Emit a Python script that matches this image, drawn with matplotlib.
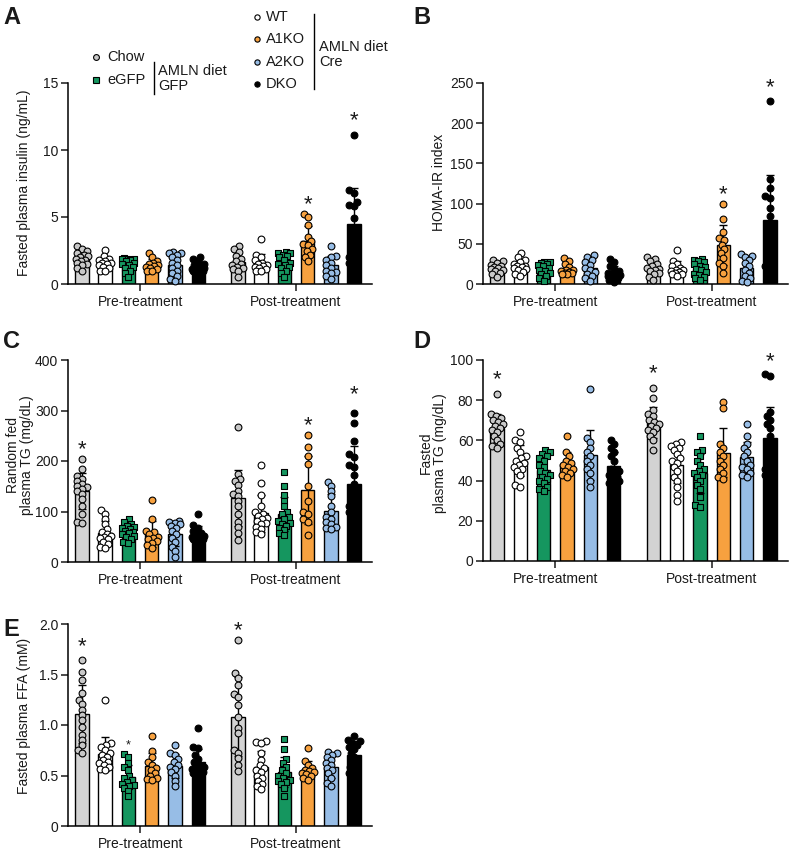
import numpy as np
import matplotlib.pyplot as plt
from matplotlib.lines import Line2D

plt.rcParams['font.family'] = ['Liberation Sans', 'DejaVu Sans']
plt.rcParams['font.size'] = 10
plt.rcParams['text.color'] = '#1a1a1a'
plt.rcParams['axes.labelcolor'] = '#1a1a1a'
plt.rcParams['xtick.color'] = '#1a1a1a'
plt.rcParams['ytick.color'] = '#1a1a1a'

# groups in plotting order
groups = ['Chow', 'WT', 'eGFP', 'A1KO', 'A2KO', 'DKO']
bar_colors = ['#d3d3d3', '#ffffff', '#15965f', '#f7a13f', '#97bde6', '#000000']
dot_colors = ['#c8c8c8', '#ffffff', '#15965f', '#f7a13f', '#97bde6', '#000000']
dot_markers = ['o', 'o', 's', 'o', 'o', 'o']
periods = ['Pre-treatment', 'Post-treatment']

# A - fasted plasma insulin (ng/mL), order: Chow, WT, eGFP, A1KO, A2KO, DKO
insulin_pre = [
    [2.8, 2.6, 2.5, 2.3, 2.2, 2.1, 2.0, 1.9, 1.8, 1.7, 1.6, 1.5, 1.4, 1.2, 1.0],
    [2.55, 2.1, 1.9, 1.8, 1.7, 1.6, 1.55, 1.5, 1.4, 1.3, 1.2, 1.0, 0.95],
    [1.95, 1.9, 1.9, 1.85, 1.8, 1.7, 1.6, 1.5, 1.4, 1.3, 1.2, 1.0, 0.8, 0.5],
    [2.3, 2.0, 1.7, 1.6, 1.5, 1.4, 1.35, 1.3, 1.2, 1.1, 1.0, 0.95],
    [2.4, 2.35, 2.3, 2.2, 2.0, 1.8, 1.6, 1.4, 1.2, 1.0, 0.8, 0.6, 0.4, 0.25],
    [2.05, 1.9, 1.7, 1.5, 1.4, 1.3, 1.25, 1.2, 1.15, 1.1, 1.05, 1.0, 0.95, 0.9],
]
insulin_post = [
    [2.8, 2.6, 2.4, 2.1, 1.9, 1.7, 1.5, 1.4, 1.3, 1.2, 1.1, 1.0, 0.55],
    [3.35, 2.2, 2.0, 1.8, 1.6, 1.5, 1.4, 1.35, 1.3, 1.2, 1.1, 1.0, 0.95],
    [2.4, 2.35, 2.3, 2.2, 2.1, 2.0, 1.8, 1.6, 1.5, 1.4, 1.3, 1.2, 1.0, 0.8, 0.5],
    [5.25, 5.0, 4.4, 3.5, 3.2, 3.0, 2.9, 2.6, 2.5, 2.2, 2.0, 1.7],
    [2.8, 2.1, 2.0, 1.8, 1.6, 1.4, 1.2, 1.0, 0.9, 0.8, 0.6, 0.4],
    [11.1, 7.0, 6.8, 6.1, 5.9, 5.8, 4.9, 3.8, 3.3, 2.8, 2.2, 2.0, 1.9, 1.6, 1.5],
]

# B - HOMA-IR index
homa_pre = [
    [30, 28, 26, 24, 22, 21, 20, 19, 18, 16, 14, 12, 9],
    [38, 33, 30, 27, 25, 23, 22, 21, 20, 19, 18, 15, 12, 10],
    [27, 27, 26, 25, 24, 22, 20, 18, 16, 14, 12, 10, 7, 4],
    [32, 29, 25, 21, 18, 17, 16, 15, 14, 14, 13, 13],
    [36, 33, 30, 27, 24, 20, 17, 15, 12, 10, 7, 4],
    [31, 27, 23, 19, 16, 14, 13, 12, 11, 10, 9, 7, 5, 3],
]
homa_post = [
    [33, 31, 28, 25, 22, 20, 19, 18, 16, 14, 12, 9, 5],
    [42, 29, 25, 22, 20, 18, 17, 16, 15, 14, 13, 12, 10],
    [31, 30, 29, 27, 25, 23, 21, 19, 17, 15, 13, 11, 9, 7, 5],
    [100, 81, 65, 57, 55, 49, 43, 38, 32, 26, 22, 14],
    [37, 35, 34, 30, 26, 22, 18, 14, 10, 7, 4, 2],
    [228, 130, 119, 109, 107, 95, 84, 76, 60, 45, 36, 30, 25, 22, 20],
]

# C - random fed plasma TG (mg/dL)
tg_fed_pre = [
    [203, 185, 170, 165, 160, 155, 150, 148, 145, 140, 135, 125, 110, 95, 80, 78],
    [102, 95, 85, 75, 65, 60, 55, 52, 50, 48, 45, 40, 35, 30, 27],
    [85, 80, 76, 72, 70, 68, 65, 62, 60, 58, 55, 52, 50, 45, 40, 37],
    [123, 86, 62, 60, 55, 50, 48, 45, 42, 38, 33, 28],
    [82, 80, 78, 75, 72, 68, 62, 55, 48, 40, 30, 22, 10],
    [95, 73, 68, 62, 58, 55, 52, 50, 48, 47, 46, 45, 44],
]
tg_fed_post = [
    [268, 175, 165, 160, 152, 140, 135, 130, 120, 110, 95, 80, 70, 57, 43],
    [192, 157, 133, 110, 100, 95, 92, 88, 85, 82, 78, 75, 70, 65, 60, 55],
    [178, 150, 132, 120, 110, 100, 95, 90, 86, 82, 78, 75, 72, 68, 63, 58, 53],
    [252, 228, 210, 195, 150, 120, 100, 95, 85, 80, 53],
    [158, 150, 140, 130, 110, 100, 90, 85, 80, 75, 70, 67, 65],
    [296, 275, 240, 213, 208, 192, 188, 172, 155, 110, 105, 100, 95, 85, 75, 65, 55],
]

# D - fasted plasma TG (mg/dL)
tg_fast_pre = [
    [83, 73, 72, 71, 70, 69, 68, 67, 66, 65, 64, 62, 60, 58, 57, 56],
    [64, 60, 59, 56, 54, 52, 51, 50, 49, 48, 47, 46, 45, 43, 38, 37],
    [55, 54, 53, 52, 51, 50, 48, 47, 45, 44, 43, 42, 41, 40, 39, 37, 36, 35],
    [62, 54, 52, 50, 49, 48, 47, 46, 45, 44, 43, 42],
    [85.5, 61, 59, 56, 54, 52, 50, 48, 46, 44, 40, 37],
    [60, 58, 56, 54, 52, 50, 46, 45, 44, 43, 42, 41, 40, 39, 39],
]
tg_fast_post = [
    [86, 81, 75, 73, 72, 70, 69, 68, 67, 66, 65, 64, 62, 60, 55],
    [59, 58, 57, 56, 55, 53, 51, 50, 49, 47, 45, 42, 40, 37, 33, 30],
    [62, 55, 54, 52, 50, 48, 46, 45, 44, 43, 42, 40, 38, 36, 32, 28, 27],
    [79, 76, 58, 56, 54, 52, 50, 48, 46, 44, 42, 41],
    [68, 62, 58, 56, 54, 52, 50, 48, 47, 46, 44, 43, 42],
    [93, 92, 74, 72, 70, 68, 66, 62, 58, 56, 52, 50, 48, 46, 45, 43, 42],
]

# E - fasted plasma FFA (mM)
ffa_pre = [
    [1.64, 1.52, 1.45, 1.32, 1.25, 1.21, 1.15, 1.10, 1.05, 0.98, 0.90, 0.85, 0.80, 0.75, 0.72],
    [1.25, 0.82, 0.80, 0.78, 0.75, 0.72, 0.70, 0.68, 0.65, 0.63, 0.62, 0.60, 0.58, 0.56, 0.55],
    [0.71, 0.68, 0.62, 0.58, 0.55, 0.50, 0.48, 0.46, 0.44, 0.42, 0.41, 0.40, 0.38, 0.35, 0.30],
    [0.89, 0.74, 0.68, 0.63, 0.60, 0.57, 0.55, 0.52, 0.50, 0.48, 0.47, 0.46],
    [0.80, 0.72, 0.70, 0.66, 0.63, 0.60, 0.58, 0.56, 0.53, 0.50, 0.45, 0.40],
    [0.97, 0.78, 0.77, 0.70, 0.66, 0.63, 0.60, 0.58, 0.56, 0.55, 0.54, 0.53, 0.52, 0.52],
]
ffa_post = [
    [1.84, 1.51, 1.47, 1.40, 1.31, 1.28, 1.20, 1.08, 0.97, 0.92, 0.75, 0.72, 0.67, 0.60, 0.54],
    [0.84, 0.83, 0.82, 0.72, 0.65, 0.60, 0.57, 0.55, 0.53, 0.50, 0.48, 0.45, 0.42, 0.40, 0.37],
    [0.86, 0.76, 0.66, 0.62, 0.58, 0.55, 0.52, 0.50, 0.48, 0.46, 0.45, 0.44, 0.42, 0.38, 0.30],
    [0.77, 0.64, 0.60, 0.57, 0.55, 0.54, 0.53, 0.52, 0.51, 0.50, 0.48, 0.46],
    [0.73, 0.72, 0.70, 0.68, 0.65, 0.62, 0.60, 0.57, 0.55, 0.52, 0.48, 0.43, 0.40],
    [0.89, 0.85, 0.84, 0.82, 0.80, 0.78, 0.76, 0.72, 0.68, 0.62, 0.58, 0.55, 0.52, 0.50],
]

W, H = 789, 851
fig = plt.figure(figsize=(W / 100, H / 100), dpi=100)

post_shift = 6.7
xlim = (-0.6, 12.47)


def rect(l, r, t, b):
    return [l / W, 1 - b / H, (r - l) / W, (b - t) / H]


def swarm(vals, ppu_x, ppu_y, diam=6.6, lim=6.0):
    # simple deterministic beeswarm, offsets in px converted to data units
    vals = np.asarray(vals, float)
    cands = [0.0]
    step = 1.0
    k = 1
    while k * step <= lim:
        cands += [-k * step, k * step]
        k += 1
    placed = []
    offs = np.zeros(len(vals))
    for i in np.argsort(vals):
        y = vals[i] * ppu_y
        best, best_d = None, -1
        for c in cands:
            d = min([np.hypot(c - px, y - py) for px, py in placed] + [99])
            if d >= diam * 0.75:
                best = c
                break
            if d > best_d:
                best_d, best_c = d, c
        if best is None:
            best = best_c
        placed.append((best, y))
        offs[i] = best / ppu_x
    return offs


def panel(r, pre, post, ymax, yticks, yticklabels, stars):
    ax = fig.add_axes(rect(*r))
    ax.set_xlim(*xlim)
    ax.set_ylim(0, ymax)
    ppu_x = (r[1] - r[0]) / (xlim[1] - xlim[0])
    ppu_y = (r[3] - r[2]) / ymax
    for p, data in enumerate([pre, post]):
        for g, vals in enumerate(data):
            x = g + p * post_shift
            m = np.mean(vals)
            sd = np.std(vals, ddof=1)
            ax.bar(x, m, width=0.58, color=bar_colors[g], edgecolor='black',
                   linewidth=1.0, zorder=1)
            ax.errorbar(x, m, yerr=sd, fmt='none', ecolor='black', elinewidth=1.0,
                        capsize=3, capthick=1.0, zorder=2)
            xs = x + swarm(vals, ppu_x, ppu_y)
            ax.scatter(xs, vals, s=24 if dot_markers[g] == 'o' else 22,
                       marker=dot_markers[g], facecolor=dot_colors[g],
                       edgecolor='black', linewidth=0.8, zorder=3, clip_on=False)
    for p, g, y, fs in stars:
        ax.annotate('*', (g + p * post_shift, y), xytext=(0, -0.55 * fs),
                    textcoords='offset points', ha='center', va='baseline',
                    fontsize=fs, annotation_clip=False)
    for s in ['top', 'right']:
        ax.spines[s].set_visible(False)
    for s in ['left', 'bottom']:
        ax.spines[s].set_linewidth(1.1)
    ax.set_yticks(yticks)
    ax.set_yticklabels(yticklabels)
    ax.set_xticks([2.5, 2.5 + post_shift])
    ax.set_xticklabels(periods)
    ax.tick_params(axis='both', direction='out', length=5, width=1.1, labelsize=10)
    ax.tick_params(axis='y', pad=2)
    ax.tick_params(axis='x', pad=3)
    return ax


panel((68, 372, 83, 284), insulin_pre, insulin_post, 15, [0, 5, 10, 15],
      ['0', '5', '10', '15'], [(1, 3, 6.4, 16), (1, 5, 12.7, 16)])
panel((483, 788, 83, 284), homa_pre, homa_post, 250, [0, 50, 100, 150, 200, 250],
      ['0', '50', '100', '150', '200', '250'], [(1, 3, 119.5, 16), (1, 5, 252, 16)])
panel((68, 372, 360, 562), tg_fed_pre, tg_fed_post, 400, [0, 100, 200, 300, 400],
      ['0', '100', '200', '300', '400'],
      [(0, 0, 235, 16), (1, 3, 284, 16), (1, 5, 344, 16)])
panel((483, 788, 360, 561), tg_fast_pre, tg_fast_post, 100, [0, 20, 40, 60, 80, 100],
      ['0', '20', '40', '60', '80', '100'],
      [(0, 0, 93.4, 16), (1, 0, 96.7, 16), (1, 5, 102.5, 16)])
panel((68, 372, 624, 826), ffa_pre, ffa_post, 2.0, [0, 0.5, 1.0, 1.5, 2.0],
      ['0', '0.5', '1.0', '1.5', '2.0'],
      [(0, 0, 1.84, 16), (0, 2, 0.835, 9), (1, 0, 2.0, 16)])

# overlay in pixel coordinates for letters, y labels and legend
ov = fig.add_axes([0, 0, 1, 1], facecolor='none')
ov.set_xlim(0, W)
ov.set_ylim(H, 0)
ov.axis('off')

for letter, x, y in [('A', 3, 18), ('B', 413, 18), ('C', 3, 342), ('D', 413, 342), ('E', 3, 630)]:
    ov.text(x, y, letter, fontsize=17, fontweight='bold', ha='left', va='center')

ylabels = [
    ('Fasted plasma insulin (ng/mL)', 24, 183),
    ('HOMA-IR index', 439, 182),
    ('Random fed\nplasma TG (mg/dL)', 20, 455),
    ('Fasted\nplasma TG (mg/dL)', 433, 453),
    ('Fasted plasma FFA (mM)', 24, 716),
]
for txt, x, y in ylabels:
    ov.text(x, y, txt, rotation=90, ha='center', va='center', fontsize=10,
            multialignment='center', linespacing=1.05)

# legend
leg_left = [('Chow', 0, 57), ('eGFP', 2, 80)]
for name, g, y in leg_left:
    ov.plot(96, y, marker=dot_markers[g], ms=4.2, mfc=dot_colors[g], mec='black', mew=0.8)
    ov.text(107, y, name, fontsize=10.5, va='center', ha='left')
ov.add_line(Line2D([154, 154], [62, 94], color='black', lw=1.0))
ov.text(158, 71, 'AMLN diet', fontsize=10.5, va='center', ha='left')
ov.text(158, 86, 'GFP', fontsize=10.5, va='center', ha='left')

leg_right = [('WT', 1, 17), ('A1KO', 3, 39), ('A2KO', 4, 61.5), ('DKO', 5, 83.5)]
for name, g, y in leg_right:
    ov.plot(257, y, marker='o', ms=3.8, mfc=dot_colors[g], mec='black', mew=0.8)
    ov.text(266, y, name, fontsize=10.5, va='center', ha='left')
ov.add_line(Line2D([314, 314], [14, 89], color='black', lw=1.0))
ov.text(319, 47, 'AMLN diet', fontsize=10.5, va='center', ha='left')
ov.text(319, 62, 'Cre', fontsize=10.5, va='center', ha='left')

fig.savefig('out.png', dpi=100)
